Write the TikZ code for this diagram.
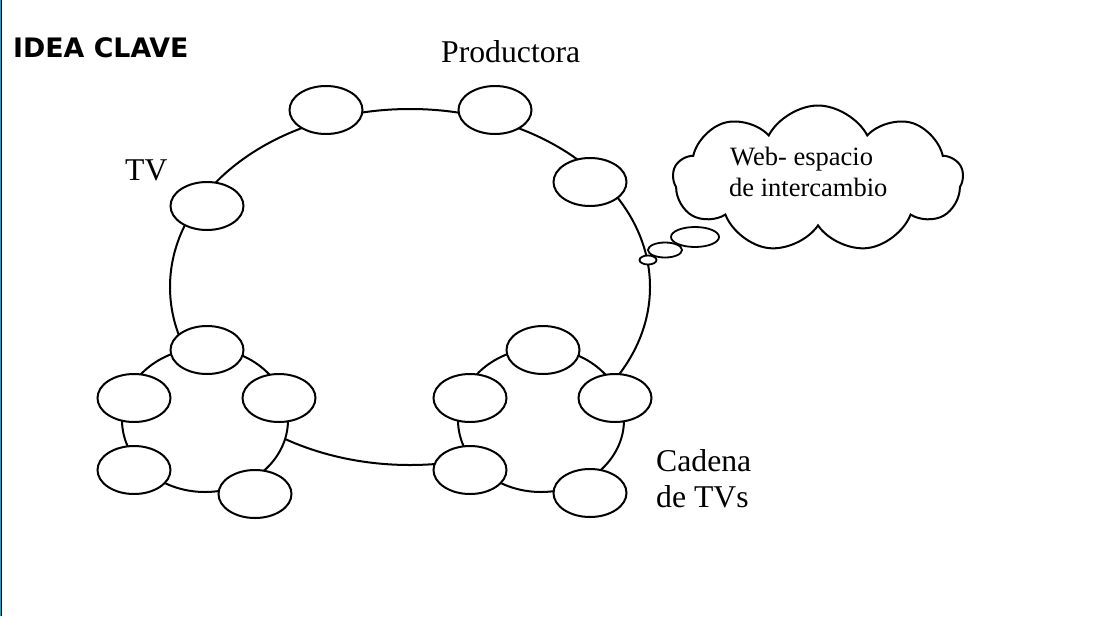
\documentclass[tikz,border=0pt]{standalone}
\usepackage{fontspec}
\setmainfont{Liberation Serif}
\newfontfamily\verdfont{DejaVu Sans}
\usetikzlibrary{shapes.geometric,shapes.symbols}
\begin{document}
\begin{tikzpicture}[x=1pt,y=-1pt,
  ring/.style={draw,ellipse,line width=2pt,inner sep=0pt},
  oval/.style={draw,fill=white,ellipse,line width=2pt,inner sep=0pt,minimum width=73pt,minimum height=48pt},
  bub/.style={draw,fill=white,ellipse,line width=1.8pt,inner sep=0pt},
  lbl/.style={anchor=base west,inner sep=0pt,font=\fontsize{31.7}{36}\selectfont},
  cl/.style={anchor=base west,inner sep=0pt,font=\fontsize{26.5}{30}\selectfont}]
\useasboundingbox (0,0) rectangle (1100,616);
\fill[white] (0,0) rectangle (1100,616);
\draw[cyan,line width=1.2pt] (0.6,0) -- (0.6,616);
\draw[black,line width=1pt] (1.8,0) -- (1.8,616);
% title
\node[anchor=base west,inner sep=0pt,font=\verdfont\bfseries\fontsize{26.8}{30}\selectfont] (title) at (13,57) {IDEA CLAVE};
% big ring
\node[ring,minimum width=480pt,minimum height=356pt] (big) at (410,287) {};
% cluster rings
\node[ring,fill=white,minimum width=166pt,minimum height=144pt] (cl1) at (205,420) {};
\node[ring,fill=white,minimum width=166pt,minimum height=144pt] (cl2) at (541,420) {};
% ovals on big ring
\node[oval] (t1) at (326,110) {};
\node[oval] (t2) at (495,110) {};
\node[oval] (t3) at (590,182) {};
\node[oval] (tv) at (207,206) {};
% left cluster
\node[oval] (a1) at (207,350) {};
\node[oval] (a2) at (134,398) {};
\node[oval] (a3) at (279,398) {};
\node[oval] (a4) at (134,470) {};
\node[oval] (a5) at (255,494) {};
% right cluster
\node[oval] (b1) at (543,350) {};
\node[oval] (b2) at (470,398) {};
\node[oval] (b3) at (615,398) {};
\node[oval] (b4) at (470,470) {};
\node[oval] (b5) at (590,493) {};
% cloud
\node[cloud,draw,fill=white,line width=2pt,cloud puffs=9,cloud puff arc=125,aspect=1.97,inner sep=0pt,minimum width=290pt,minimum height=147pt] (cloud) at (818,179) {};
\node[cl] (w1) at (730,165) {Web- espacio};
\node[cl] (w2) at (729,196) {de intercambio};
% thought bubbles
\node[bub,minimum width=48pt,minimum height=20pt] (s3) at (695,237) {};
\node[bub,minimum width=34pt,minimum height=15pt] (s2) at (665,250) {};
\node[bub,minimum width=17pt,minimum height=9pt] (s1) at (648,260) {};
% labels
\node[lbl] (prod) at (441,62) {Productora};
\node[lbl] (tvl) at (125,180) {TV};
\node[lbl] (cad1) at (656,471) {Cadena};
\node[lbl] (cad2) at (656,507) {de TVs};
\end{tikzpicture}
\end{document}
